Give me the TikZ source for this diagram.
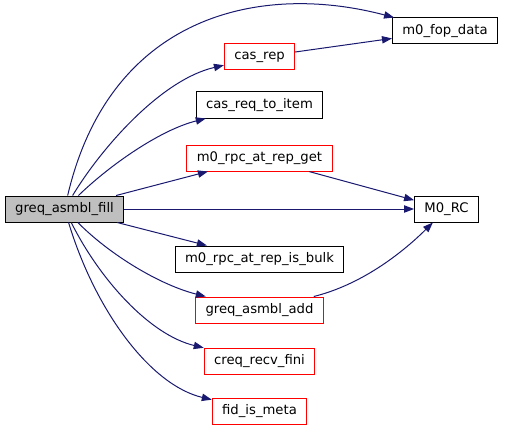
\documentclass[tikz,border=0pt]{standalone}
\usepackage{fontspec}
\setmainfont{DejaVu Sans}
\usetikzlibrary{arrows.meta}
\definecolor{edgeblue}{HTML}{191970}
\definecolor{boxred}{HTML}{FF0000}
\begin{document}
\begin{tikzpicture}[x=0.75pt, y=-0.75pt,
        % stile dei nodi (funzioni)
        func/.style={rectangle, draw=black, fill=white, font=\fontsize{9.9}{11}\selectfont, minimum height=19.5pt, inner xsep=7.4pt, inner ysep=0pt, line width=0.75pt},
        % nodi con grafo troncato (bordo rosso)
        trunc/.style={func, draw=boxred},
        % nodo di partenza (grigio)
        root/.style={func, fill=black!25},
        % archi di chiamata
        call/.style={draw=edgeblue, line width=0.75pt, -{Triangle[length=7.5pt,width=5.5pt]}}
    ]
        \useasboundingbox (0,0) rectangle (505,431);

        % --- NODI ---
        \node[root]  (fill)   at (64.5,209) {greq\_asmbl\_fill};
        \node[func]  (fop)    at (445,31)   {m0\_fop\_data};
        \node[trunc] (casrep) at (259.5,57) {cas\_rep};
        \node[func]  (item)   at (259.5,105) {cas\_req\_to\_item};
        \node[trunc] (repget) at (259.5,158) {m0\_rpc\_at\_rep\_get};
        \node[func]  (rc)     at (446.5,209) {M0\_RC};
        \node[func]  (bulk)   at (259.5,259) {m0\_rpc\_at\_rep\_is\_bulk};
        \node[trunc] (add)    at (259.5,310) {greq\_asmbl\_add};
        \node[trunc] (fini)   at (259.5,361) {creq\_recv\_fini};
        \node[trunc] (meta)   at (259.5,411) {fid\_is\_meta};

        % --- ARCHI ---
        \draw[call] (fill) .. controls (110,15) and (260,-18) .. (fop);
        \draw[call] (fill) .. controls (100,150) and (160,80) .. (casrep);
        \draw[call] (fill) .. controls (110,165) and (160,130) .. (item);
        \draw[call] (fill) -- (repget);
        \draw[call] (fill) -- (rc);
        \draw[call] (fill) -- (bulk);
        \draw[call] (fill) .. controls (110,255) and (160,285) .. (add);
        \draw[call] (fill) .. controls (100,280) and (150,335) .. (fini);
        \draw[call] (fill) .. controls (95,310) and (150,385) .. (meta);
        \draw[call] (casrep) -- (fop);
        \draw[call] (repget) -- (rc);
        \draw[call] (add) .. controls (360,285) and (400,255) .. (rc);

    \end{tikzpicture}
\end{document}
